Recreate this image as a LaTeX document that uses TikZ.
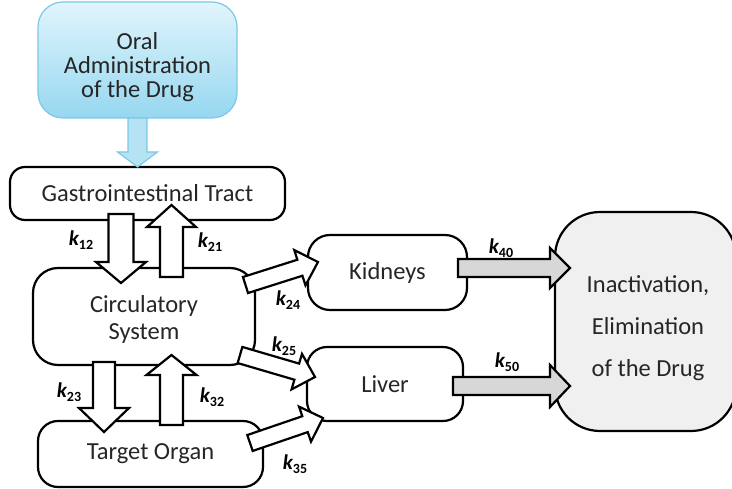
\documentclass[tikz,border=0pt]{standalone}
\usepackage{fontspec}
\setmainfont{Carlito}
\usetikzlibrary{calc}
\definecolor{txt}{RGB}{38,38,38}
\definecolor{oralfillA}{RGB}{225,245,252}
\definecolor{oralfillB}{RGB}{150,215,240}
\definecolor{oraledge}{RGB}{125,200,230}
\definecolor{elimfill}{RGB}{240,240,240}
\definecolor{grayarr}{RGB}{215,215,215}
\newcommand{\blockarr}[6]{%
  \path ($(#3)!#6!(#2)$) coordinate (BAh);
  \draw[#1] ($(#2)!#4!90:(#3)$) -- ($(BAh)!#4!90:(#3)$) -- ($(BAh)!#5!90:(#3)$) -- (#3)
    -- ($(BAh)!#5!-90:(#3)$) -- ($(BAh)!#4!-90:(#3)$) -- ($(#2)!#4!-90:(#3)$) -- cycle;}
\newcommand{\klab}[1]{{\fontsize{21}{21}\selectfont\bfseries\itshape k}\raisebox{-4pt}{\fontsize{14}{14}\selectfont\bfseries #1}}
\begin{document}
\begin{tikzpicture}[x=1pt,y=-1pt,
  box/.style={draw=black,line width=2.2pt,fill=white,inner sep=0pt,text=txt,align=center,
    font=\fontsize{24.5}{26}\selectfont},
  tx/.style={text=txt,align=center,inner sep=0pt},
  warr/.style={draw=black,line width=2.2pt,fill=white,line join=miter},
  garr/.style={draw=black,line width=2.2pt,fill=grayarr,line join=miter},
  barr/.style={draw=oraledge,line width=1.2pt,fill=oralfillB!70!white,line join=miter},
  lab/.style={text=black,inner sep=0pt}]
\useasboundingbox (0,0) rectangle (732,489);
\begin{scope}
\clip (0,0) rectangle (732,489);
% nodes
\node[box,draw=oraledge,line width=1.2pt,top color=oralfillA,bottom color=oralfillB,rounded corners=25pt,
  minimum width=199pt,minimum height=116pt] (oral) at (137.5,60) {};
\node[tx,font=\fontsize{24.5}{24}\selectfont] at (137.5,67) {Oral\\Administration\\of the Drug};
\node[box,rounded corners=15pt,minimum width=275pt,minimum height=53pt] (gi) at (147.5,193.5) {Gastrointestinal Tract};
\node[box,rounded corners=25pt,minimum width=222pt,minimum height=97pt] (circ) at (144,316.5) {};
\node[tx,font=\fontsize{24.5}{27}\selectfont] at (144,319) {Circulatory\\System};
\node[box,rounded corners=20pt,minimum width=225pt,minimum height=66pt] (target) at (150.5,454) {Target Organ};
\node[box,rounded corners=22pt,minimum width=159pt,minimum height=75pt] (kid) at (387.5,272.5) {Kidneys};
\node[box,rounded corners=20pt,minimum width=156pt,minimum height=74pt] (liver) at (385,384) {Liver};
\node[box,fill=elimfill,rounded corners=45pt,minimum width=181pt,minimum height=219pt] (elim) at (645.5,321.5) {};
\node[tx,font=\fontsize{24.5}{42}\selectfont] at (648,328) {Inactivation,\\Elimination\\of the Drug};
% arrow end coordinates
\coordinate (aOs) at (137.5,118); \coordinate (aOe) at (137.5,167);
\coordinate (a12s) at (121,214); \coordinate (a12e) at (121,283);
\coordinate (a21s) at (171.5,277); \coordinate (a21e) at (171.5,205);
\coordinate (a23s) at (104,362); \coordinate (a23e) at (104,432);
\coordinate (a32s) at (171.5,425); \coordinate (a32e) at (171.5,355);
\coordinate (a24s) at (245.5,285); \coordinate (a24e) at (318,262);
\coordinate (a25s) at (240,355); \coordinate (a25e) at (315,377);
\coordinate (a35s) at (250,443); \coordinate (a35e) at (323,418);
\coordinate (a40s) at (458,268); \coordinate (a40e) at (570,268);
\coordinate (a50s) at (453,386); \coordinate (a50e) at (570,386);
% arrows
\blockarr{barr}{aOs}{aOe}{9.5pt}{20pt}{15pt}
\blockarr{warr}{a12s}{a12e}{12.5pt}{25pt}{21pt}
\blockarr{warr}{a21s}{a21e}{11.5pt}{24.5pt}{22pt}
\blockarr{warr}{a23s}{a23e}{11pt}{25pt}{24pt}
\blockarr{warr}{a32s}{a32e}{11.5pt}{25pt}{20pt}
\blockarr{warr}{a24s}{a24e}{8.4pt}{18.5pt}{19pt}
\blockarr{warr}{a25s}{a25e}{8.4pt}{18.5pt}{19pt}
\blockarr{warr}{a35s}{a35e}{8.4pt}{18.5pt}{19pt}
\blockarr{garr}{a40s}{a40e}{9pt}{20pt}{20pt}
\blockarr{garr}{a50s}{a50e}{9pt}{21pt}{20pt}
% labels
\node[lab] (k12) at (81,240) {\klab{12}};
\node[lab] (k21) at (210,242) {\klab{21}};
\node[lab] (k24) at (288,300) {\klab{24}};
\node[lab] (k25) at (284,346) {\klab{25}};
\node[lab] (k23) at (69,392) {\klab{23}};
\node[lab] (k32) at (212,397) {\klab{32}};
\node[lab] (k35) at (295,464) {\klab{35}};
\node[lab] (k40) at (501,248) {\klab{40}};
\node[lab] (k50) at (507,362) {\klab{50}};
\end{scope}
\end{tikzpicture}
\end{document}
